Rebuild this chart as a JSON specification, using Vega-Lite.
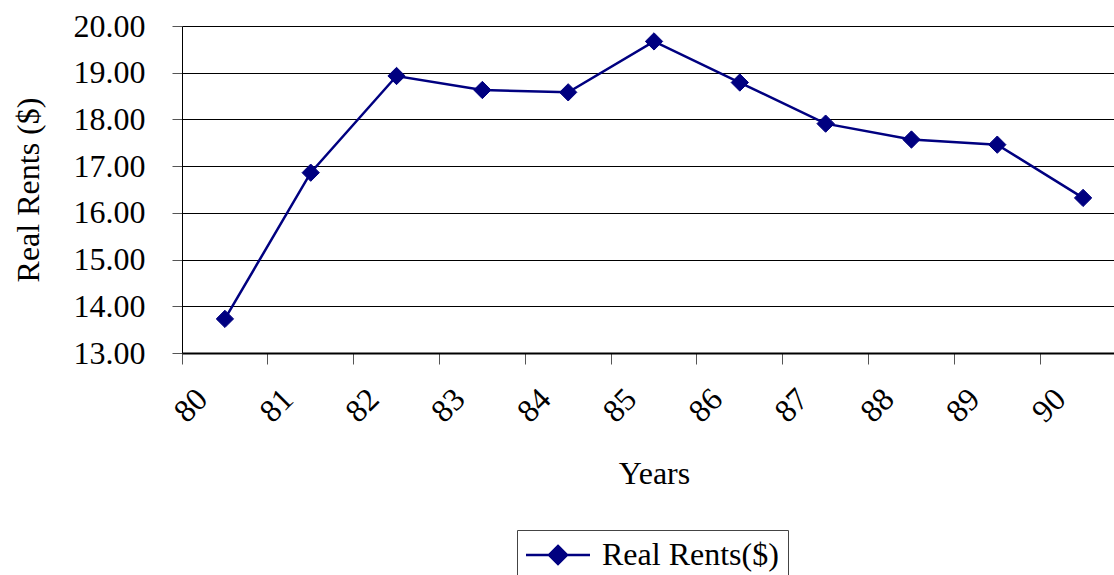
{
  "$schema": "https://vega.github.io/schema/vega-lite/v6.json",
  "autosize": {"type": "none"},
  "padding": {"left": 182, "top": 26, "right": 0, "bottom": 222},
  "width": 932,
  "height": 327,
  "background": "white",
  "config": {
    "font": "Liberation Serif",
    "view": {"stroke": null},
    "axis": {
      "labelFont": "Liberation Serif",
      "titleFont": "Liberation Serif",
      "labelColor": "black",
      "titleColor": "black",
      "titleFontWeight": "normal",
      "labelFontSize": 32,
      "titleFontSize": 32
    }
  },
  "data": {
    "values": [
      {"year": "80", "rent": 13.73, "series": "Real Rents($)"},
      {"year": "81", "rent": 16.86, "series": "Real Rents($)"},
      {"year": "82", "rent": 18.93, "series": "Real Rents($)"},
      {"year": "83", "rent": 18.63, "series": "Real Rents($)"},
      {"year": "84", "rent": 18.58, "series": "Real Rents($)"},
      {"year": "85", "rent": 19.67, "series": "Real Rents($)"},
      {"year": "86", "rent": 18.79, "series": "Real Rents($)"},
      {"year": "87", "rent": 17.91, "series": "Real Rents($)"},
      {"year": "88", "rent": 17.57, "series": "Real Rents($)"},
      {"year": "89", "rent": 17.46, "series": "Real Rents($)"},
      {"year": "90", "rent": 16.32, "series": "Real Rents($)"}
    ]
  },
  "encoding": {
    "x": {
      "field": "year",
      "type": "ordinal",
      "sort": null,
      "scale": {"type": "band", "range": [0, 944], "paddingInner": 0, "paddingOuter": 0},
      "axis": {
        "title": "Years",
        "bandPosition": 0,
        "labelAngle": -45,
        "labelAlign": "center",
        "labelBaseline": "middle",
        "labelPadding": 41,
        "labelOffset": -34,
        "tickSize": 11,
        "tickColor": "#555555",
        "tickWidth": 1,
        "domainColor": "black",
        "domainWidth": 2,
        "grid": false,
        "titlePadding": 31
      }
    },
    "y": {
      "field": "rent",
      "type": "quantitative",
      "scale": {"domain": [13, 20], "nice": false, "zero": false},
      "axis": {
        "title": "Real Rents ($)",
        "values": [13, 14, 15, 16, 17, 18, 19, 20],
        "format": ".2f",
        "tickSize": 10,
        "tickColor": "#555555",
        "labelPadding": 27,
        "domainColor": "black",
        "domainWidth": 1,
        "grid": true,
        "gridColor": "black",
        "gridWidth": 1,
        "gridOpacity": 1,
        "titlePadding": 28
      }
    },
    "color": {
      "field": "series",
      "type": "nominal",
      "scale": {"range": ["#000080"]},
      "legend": {
        "title": null,
        "orient": "none",
        "legendX": 335,
        "legendY": 504,
        "padding": 9,
        "strokeColor": "#444444",
        "fillColor": "white",
        "labelFont": "Liberation Serif",
        "labelFontSize": 32,
        "labelColor": "black",
        "labelLimit": 0,
        "labelOffset": 44,
        "symbolType": "M-1.6,0H4.8M1.6,-0.9L2.5,0L1.6,0.9L0.7,0Z",
        "symbolSize": 400,
        "symbolStrokeWidth": 2.5,
        "symbolFillColor": "#000080",
        "symbolStrokeColor": "#000080"
      }
    }
  },
  "layer": [
    {"mark": {"type": "line", "strokeWidth": 2.5}},
    {"mark": {"type": "point", "shape": "diamond", "filled": true, "size": 300, "opacity": 1, "stroke": "#000080", "strokeWidth": 1}}
  ]
}
